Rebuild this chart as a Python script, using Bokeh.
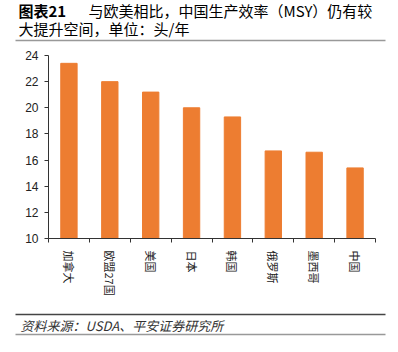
import math
from bokeh.plotting import figure
from bokeh.layouts import column, row
from bokeh.models import FixedTicker, Range1d, ColumnDataSource
from bokeh.core.properties import value
from bokeh.embed import file_html
from bokeh.resources import INLINE

categories = ["加拿大", "欧盟27国", "美国", "日本", "韩国", "俄罗斯", "墨西哥", "中国"]
msy = [23.4, 22.0, 21.2, 20.0, 19.3, 16.7, 16.6, 15.4]
y_ticks = [10, 12, 14, 16, 18, 20, 22, 24]
title_tag = "图表21"
title_line1 = "与欧美相比，中国生产效率（MSY）仍有较"
title_line2 = "大提升空间，单位：头/年"
source_note = "资料来源：USDA、平安证券研究所"

W = 398
HEAD_H, MAIN_H, FOOT_H = 44, 266, 42
FL, FR, FT, FB = 48, 375, 55, 238  # frame edges in page px

FONT = "Noto Sans CJK SC"
BAR = "#ED7D31"


def blank(height):
    f = figure(width=W, height=height, output_backend="svg", toolbar_location=None,
               x_range=Range1d(0, W), y_range=Range1d(height, 0),
               x_axis_type=None, y_axis_type=None, min_border=0)
    f.outline_line_color = None
    f.background_fill_color = "white"
    f.border_fill_color = "white"
    return f


def txt(f, x, y, s, size, style="normal", color="#111111"):
    f.text(x=[x], y=[y], text=[s], text_font=value(FONT), text_font_size=value(size),
           text_font_style=style, text_color=color, text_baseline="middle", text_align="left")


def rule(f, y, color, width=1.5, x0=15, x1=385):
    f.segment(x0=[x0], y0=[y], x1=[x1], y1=[y], line_color=color, line_width=width)


# header
head = blank(HEAD_H)
txt(head, 18, 10, title_tag, "15px", style="bold", color="#000000")
txt(head, 88, 10, title_line1, "15px", color="#000000")
txt(head, 18, 28, title_line2, "15px", color="#000000")
rule(head, 40, "#999999")

# main chart
centers = [i + 0.5 for i in range(len(categories))]
bounds = list(range(len(categories) + 1))
src = ColumnDataSource(dict(x=centers, top=msy, cat=categories))

top0 = HEAD_H
p = figure(width=W, height=MAIN_H, output_backend="svg", toolbar_location=None,
           x_range=Range1d(0, len(categories)), y_range=Range1d(y_ticks[0], y_ticks[-1]),
           min_border_left=FL, min_border_right=W - FR, min_border_top=FT - top0,
           min_border_bottom=top0 + MAIN_H - FB)
p.outline_line_color = None
p.xgrid.visible = False
p.ygrid.visible = False
p.background_fill_color = "white"
p.border_fill_color = "white"

p.vbar(x="x", top="top", bottom=y_ticks[0], width=0.4, source=src,
       fill_color=BAR, line_color=BAR)

xa = p.xaxis[0]
xa.ticker = FixedTicker(ticks=centers, minor_ticks=bounds)
xa.major_label_overrides = {c: cat for c, cat in zip(centers, categories)}
xa.major_tick_out = 0
xa.major_tick_in = 0
xa.minor_tick_out = 4
xa.minor_tick_in = 0
xa.minor_tick_line_color = "#333333"
xa.axis_line_color = "#333333"
xa.major_label_orientation = -math.pi / 2
xa.major_label_text_font = FONT
xa.major_label_text_font_size = "11px"
xa.major_label_text_color = "#222222"
xa.major_label_standoff = 8

ya = p.yaxis[0]
ya.ticker = FixedTicker(ticks=y_ticks)
ya.major_tick_out = 4
ya.major_tick_in = 0
ya.minor_tick_line_color = None
ya.axis_line_color = "#333333"
ya.major_tick_line_color = "#333333"
ya.major_label_text_font = "Liberation Sans"
ya.major_label_text_font_size = "12px"
ya.major_label_text_color = "#222222"
ya.major_label_standoff = 6

# footer
foot = blank(FOOT_H)
y0 = HEAD_H + MAIN_H
rule(foot, 314 - y0, "#444444")
txt(foot, 20, 325 - y0, source_note, "13px", style="italic", color="#333333")
rule(foot, 334 - y0, "#999999")

layout = column(row(head), row(p), row(foot), spacing=0)
open("out.html", "w").write(file_html(layout, INLINE))
